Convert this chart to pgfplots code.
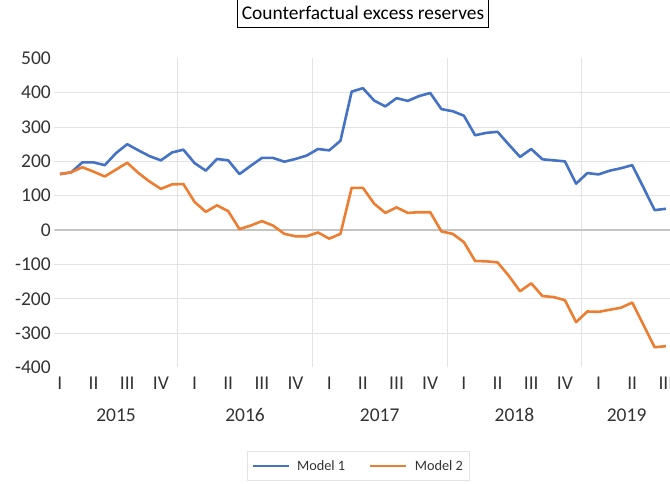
\documentclass[border=0pt]{standalone}
\usepackage{pgfplots}
\pgfplotsset{compat=1.18}
\usepackage{fontspec}
\setmainfont{Carlito}
\definecolor{blueL}{HTML}{4472C4}
\definecolor{orangeL}{HTML}{ED7D31}
\definecolor{gridc}{HTML}{E3E3E3}
\definecolor{zeroc}{HTML}{C4C4C4}
\definecolor{txt}{HTML}{333333}
\begin{document}
\begin{tikzpicture}[x=1pt,y=1pt]
\useasboundingbox (0,0) rectangle (670,484);
\begin{axis}[
  at={(54.3pt,116.5pt)}, anchor=south west,
  scale only axis, width=617.2pt, height=309.2pt,
  xmin=-0.5, xmax=54.5, ymin=-400, ymax=500,
  axis line style={draw=none},
  major tick length=0pt, minor tick length=0pt,
  tick style={draw=none},
  ytick={-300,-200,-100,0,100,200,300,400},
  extra y ticks={-400,500},
  extra y tick style={grid=none},
  ymajorgrids,
  major grid style={gridc, line width=0.9pt},
  minor grid style={gridc, line width=0.9pt},
  xtick={0,3,...,54},
  xticklabels={I,II,III,IV,I,II,III,IV,I,II,III,IV,I,II,III,IV,I,II,III},
  minor xtick={10.5,22.5,34.5,46.5},
  xminorgrids,
  extra x ticks={5,16.5,28.5,40.5,50.5},
  extra x tick labels={2015,2016,2017,2018,2019},
  extra x tick style={grid=none, xticklabel style={yshift=-32pt}},
  xticklabel style={anchor=base, yshift=-22.5pt},
  ticklabel style={font=\fontsize{19.5}{22}\selectfont, text=txt},
  /pgf/number format/assume math mode=true,
  title={Counterfactual excess reserves},
  title style={at={(0.5002,1.1287)}, anchor=center, draw=black, line width=0.9pt,
    inner xsep=4pt, inner ysep=0pt, minimum height=29pt,
    font=\fontsize{19.4}{22}\selectfont},
  legend columns=2,
  legend style={at={(0.3122,-0.27)}, anchor=north west, draw=gridc, line width=0.9pt,
    font=\fontsize{14.3}{16}\selectfont, text=txt, inner xsep=4pt, inner ysep=7pt,
    /tikz/every even column/.append style={column sep=22pt}},
  legend image code/.code={\draw[#1] (0pt,0pt) -- (36pt,0pt); \path (41pt,0pt);},
]
\draw[zeroc, line width=1.4pt] (axis cs:-0.5,0) -- (axis cs:54.5,0);
\addplot[blueL, line width=2.6pt, line join=round] coordinates {
(0,163)(1,168)(2,197)(3,197)(4,189)(5,224)(6,250)(7,232)(8,215)(9,203)
(10,226)(11,234)(12,195)(13,173)(14,207)(15,203)(16,163)(17,187)(18,210)(19,210)
(20,199)(21,207)(22,217)(23,236)(24,232)(25,260)(26,403)(27,413)(28,377)(29,360)
(30,384)(31,376)(32,390)(33,399)(34,352)(35,346)(36,333)(37,276)(38,283)(39,286)
(40,249)(41,213)(42,236)(43,206)(44,203)(45,200)(46,135)(47,166)(48,162)(49,173)
(50,180)(51,189)(52,124)(53,58)(54,62)
};
\addlegendentry{Model 1}
\addplot[orangeL, line width=2.6pt, line join=round] coordinates {
(0,163)(1,168)(2,183)(3,170)(4,156)(5,176)(6,196)(7,166)(8,141)(9,120)
(10,133)(11,134)(12,82)(13,53)(14,72)(15,55)(16,3)(17,13)(18,26)(19,13)
(20,-11)(21,-18)(22,-18)(23,-7)(24,-25)(25,-11)(26,123)(27,123)(28,77)(29,50)
(30,66)(31,50)(32,52)(33,52)(34,-4)(35,-11)(36,-35)(37,-90)(38,-91)(39,-94)
(40,-133)(41,-178)(42,-155)(43,-192)(44,-195)(45,-204)(46,-268)(47,-237)(48,-238)(49,-232)
(50,-226)(51,-211)(52,-276)(53,-341)(54,-338)
};
\addlegendentry{Model 2\hspace{13pt}}
\end{axis}
\end{tikzpicture}
\end{document}
